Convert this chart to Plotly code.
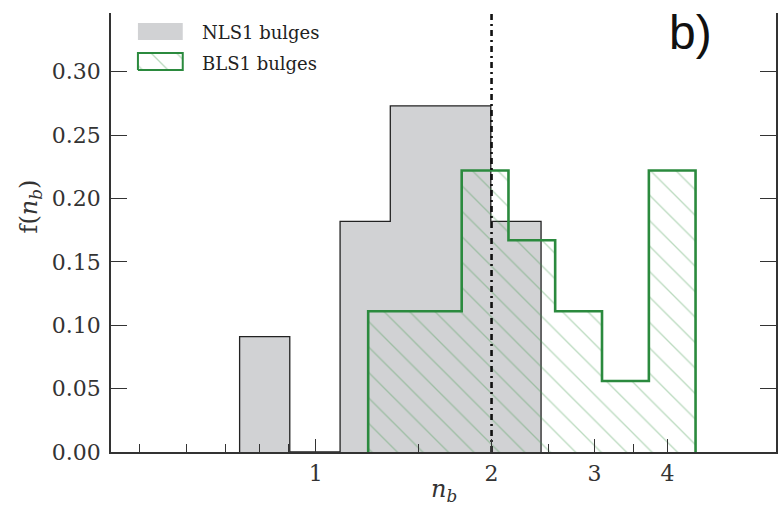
import plotly.graph_objects as go

# Bulge Sersic index histograms (log-spaced bins), normalised fractions
nls1_edges = [0.741, 0.903, 1.101, 1.342, 1.636, 1.994, 2.431]
nls1_frac = [0.091, 0.0, 0.182, 0.273, 0.273, 0.182]

bls1_edges = [1.230, 1.479, 1.778, 2.138, 2.570, 3.091, 3.718, 4.469]
bls1_frac = [0.111, 0.111, 0.222, 0.167, 0.111, 0.056, 0.222]

n_split = 2.0  # classical / pseudo-bulge divide

x_major = [1, 2, 3, 4]
x_minor = [0.5, 0.6, 0.7, 0.8, 0.9, 1.5, 2.5, 3.5]
y_ticks = [0.0, 0.05, 0.10, 0.15, 0.20, 0.25, 0.30]

X_RANGE = [-0.3503, 0.7879]
Y_TOP = 0.3463

FONT = "DejaVu Serif"
GRAY = "#d1d2d4"
GREEN = "#2b8a3e"
HATCH = dict(shape="\\", fgcolor="rgba(60,150,70,0.7)", bgcolor="rgba(0,0,0,0)",
             size=18, solidity=0.075)


def step_outline(edges, vals):
    xs, ys = [edges[0]], [0.0]
    for i, v in enumerate(vals):
        xs += [edges[i], edges[i + 1]]
        ys += [v, v]
    xs.append(edges[-1])
    ys.append(0.0)
    return xs, ys


fig = go.Figure()

nx, ny = step_outline(nls1_edges, nls1_frac)
fig.add_trace(go.Scatter(x=nx, y=ny, mode="lines", fill="toself", fillcolor=GRAY,
                         line=dict(color="#222", width=1.3), hoverinfo="skip"))

bx, by = step_outline(bls1_edges, bls1_frac)
fig.add_trace(go.Scatter(x=bx, y=by, mode="lines", fill="toself",
                         fillcolor="rgba(0,0,0,0)", fillpattern=HATCH,
                         line=dict(color=GREEN, width=2.6), hoverinfo="skip"))

fig.add_trace(go.Scatter(x=[n_split, n_split], y=[0, Y_TOP], mode="lines",
                         line=dict(color="#111", width=2.6, dash="6px,4px,2px,4px"),
                         hoverinfo="skip"))

# legend keys drawn on a unit overlay axis
fig.add_trace(go.Scatter(x=[0.0405, 0.1079, 0.1079, 0.0405, 0.0405],
                         y=[0.9385, 0.9385, 0.9772, 0.9772, 0.9385],
                         xaxis="x2", yaxis="y2", mode="lines", fill="toself",
                         fillcolor=GRAY, line=dict(color=GRAY, width=0), hoverinfo="skip"))
fig.add_trace(go.Scatter(x=[0.0405, 0.1079, 0.1079, 0.0405, 0.0405],
                         y=[0.8702, 0.8702, 0.9089, 0.9089, 0.8702],
                         xaxis="x2", yaxis="y2", mode="lines", fill="toself",
                         fillcolor="rgba(0,0,0,0)", fillpattern=HATCH,
                         line=dict(color=GREEN, width=2), hoverinfo="skip"))

axis_common = dict(showline=True, linecolor="#333", linewidth=1.5, showgrid=False,
                   zeroline=False, ticks="inside", tickcolor="#333", tickwidth=1.3,
                   tickfont=dict(family=FONT, size=22, color="#333"))

fig.update_layout(
    width=783, height=507,
    margin=dict(l=111, r=5, t=13, b=55),
    paper_bgcolor="white", plot_bgcolor="white",
    showlegend=False,
    font=dict(family=FONT, color="#222"),
    xaxis=dict(type="log", range=X_RANGE, tickmode="array",
               tickvals=x_major, ticktext=[str(v) for v in x_major], ticklen=13,
               ticklabelstandoff=1, **axis_common),
    # minor ticks on a twin log axis sharing the same scale
    xaxis3=dict(type="log", range=X_RANGE, overlaying="x", anchor="y", side="bottom",
                tickmode="array", tickvals=x_minor, ticks="inside", ticklen=8,
                tickwidth=1.2, tickcolor="#333", showticklabels=False,
                showline=False, showgrid=False, zeroline=False),
    yaxis=dict(range=[0, Y_TOP], tickmode="array", tickvals=y_ticks,
               tickformat=".2f", ticklen=16, mirror="ticks", ticklabelstandoff=4,
               **axis_common),
    xaxis2=dict(overlaying="x", range=[0, 1], visible=False),
    yaxis2=dict(overlaying="y", range=[0, 1], visible=False),
)

# empty trace so the minor-tick axis is rendered
fig.add_trace(go.Scatter(x=[1], y=[0], xaxis="x3", yaxis="y", mode="markers",
                         marker=dict(opacity=0), hoverinfo="skip"))

annotations = [
    dict(text="NLS1 bulges", x=0.1334, y=0.956, xanchor="left", yanchor="middle",
         font=dict(size=18, color="#222")),
    dict(text="BLS1 bulges", x=0.1334, y=0.886, xanchor="left", yanchor="middle",
         font=dict(size=18, color="#222")),
    dict(text="b)", x=0.871, y=0.955, xanchor="center", yanchor="middle",
         font=dict(family="Liberation Sans", size=48, color="#111")),
    dict(text="f(<i>n<sub>b</sub></i>)", x=-0.1214, y=0.56, textangle=-90,
         xanchor="center", yanchor="middle", font=dict(size=24, color="#333")),
    dict(text="<i>n<sub>b</sub></i>", x=0.5, y=-0.088, xanchor="center",
         yanchor="middle", font=dict(size=24, color="#333")),
]
for a in annotations:
    fig.add_annotation(xref="paper", yref="paper", showarrow=False, **a)

fig.write_html("out.html")
